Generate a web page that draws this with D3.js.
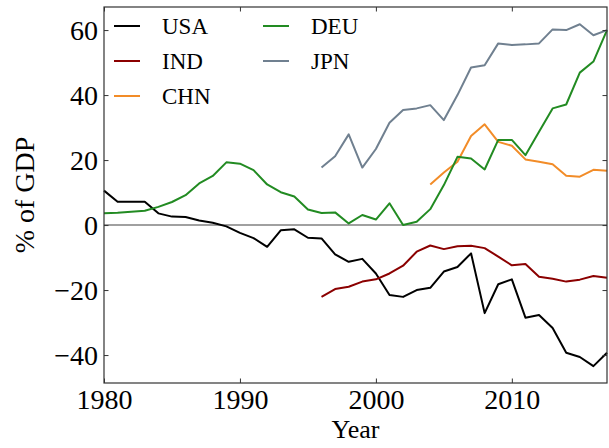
<!DOCTYPE html>
<html>
<head>
  <meta charset="utf-8" />
  <title>Net position, % of GDP</title>
  <script src="https://cdn.jsdelivr.net/npm/d3@7"></script>
  <style>
    body { margin: 0; background: #fff; }
    text { font-family: "Liberation Serif", "DejaVu Serif", serif; fill: #000; }
  </style>
</head>
<body>
  <div id="chart"></div>

  <script>
    // data, % of GDP (null = no data)
    var years = d3.range(1980, 2018);
    var usa = [10.6, 7.2, 7.2, 7.2, 3.6, 2.6, 2.5, 1.4, 0.7, -0.4, -2.4, -4.0, -6.7, -1.6, -1.3, -3.9,
               -4.1, -9.0, -11.3, -10.4, -14.9, -21.5, -22.1, -20.0, -19.3, -14.3, -12.9, -8.7, -27.1, -18.2,
               -16.7, -28.5, -27.7, -31.7, -39.3, -40.6, -43.4, -39.3];
    var ind = [null, null, null, null, null, null, null, null, null, null, null, null, null, null, null, null,
               -22.1, -19.7, -19.0, -17.4, -16.7, -14.9, -12.5, -8.2, -6.3, -7.4, -6.5, -6.4, -7.1, -9.7,
               -12.4, -12.0, -15.9, -16.5, -17.4, -16.8, -15.7, -16.2];
    var chn = [null, null, null, null, null, null, null, null, null, null, null, null, null, null, null, null,
               null, null, null, null, null, null, null, null, 12.5, 16.2, 19.5, 27.4, 31.0, 25.6,
               24.4, 20.2, 19.5, 18.7, 15.2, 14.9, 17.0, 16.7];
    var deu = [3.6, 3.8, 4.1, 4.4, 5.6, 7.1, 9.2, 12.8, 15.1, 19.3, 18.9, 16.9, 12.5, 10.1, 8.8, 4.8,
               3.7, 3.9, 0.5, 3.1, 1.7, 6.7, 0.0, 1.0, 4.9, 12.3, 21.0, 20.5, 17.1, 26.2,
               26.2, 21.5, 28.7, 35.9, 37.1, 46.9, 50.3, 60.0];
    var jpn = [null, null, null, null, null, null, null, null, null, null, null, null, null, null, null, null,
               17.7, 21.2, 27.9, 17.7, 23.4, 31.5, 35.4, 35.9, 36.9, 32.3, 40.0, 48.5, 49.2, 55.9,
               55.4, 55.6, 55.9, 60.2, 60.0, 61.8, 58.4, 60.0];

    var names = ["USA", "IND", "CHN", "DEU", "JPN"];
    var colors = ["#000000", "#8b0000", "#f28c28", "#228b22", "#708090"];
    var xTicks = [1980, 1990, 2000, 2010];
    var yTicks = [-40, -20, 0, 20, 40, 60];

    var width = 609, height = 448;
    var margin = {top: 7, right: 2, bottom: 65, left: 104};

    var svg = d3.select("#chart")
      .append("svg")
      .attr("width", width)
      .attr("height", height);

    var x = d3.scaleLinear().domain([1980, 2017]).range([margin.left, width - margin.right]);
    var y = d3.scaleLinear().domain([-48.6, 67.1]).range([height - margin.bottom, margin.top]);

    var fmt = function(d) { return d < 0 ? "\u2212" + Math.abs(d) : d; };

    // zero line
    svg.append("line")
      .attr("x1", x(1980)).attr("x2", x(2017))
      .attr("y1", y(0)).attr("y2", y(0))
      .attr("stroke", "#808080")
      .attr("stroke-width", 1.5);

    // series
    var series = [usa, ind, chn, deu, jpn];
    var line = d3.line()
      .defined(function(d) { return d[1] != null; })
      .x(function(d) { return x(d[0]); })
      .y(function(d) { return y(d[1]); });

    series.forEach(function(vals, i) {
      svg.append("path")
        .datum(years.map(function(yr, j) { return [yr, vals[j]]; }))
        .attr("fill", "none")
        .attr("stroke", colors[i])
        .attr("stroke-width", 2)
        .attr("stroke-linejoin", "round")
        .attr("d", line);
    });

    // axes, ticks pointing in on all four sides
    var tickLen = 4.5;
    svg.append("g")
      .attr("transform", "translate(0," + y.range()[0] + ")")
      .call(d3.axisBottom(x).tickValues(xTicks).tickSize(-tickLen).tickPadding(6).tickFormat(d3.format("d")));
    svg.append("g")
      .attr("transform", "translate(0," + y.range()[1] + ")")
      .call(d3.axisTop(x).tickValues(xTicks).tickSize(-tickLen).tickFormat(""));
    svg.append("g")
      .attr("transform", "translate(" + x.range()[0] + ",0)")
      .call(d3.axisLeft(y).tickValues(yTicks).tickSize(-tickLen).tickPadding(6).tickFormat(fmt));
    svg.append("g")
      .attr("transform", "translate(" + x.range()[1] + ",0)")
      .call(d3.axisRight(y).tickValues(yTicks).tickSize(-tickLen).tickFormat(""));

    svg.selectAll(".domain").remove();
    svg.selectAll(".tick line").attr("stroke", "#333").attr("stroke-width", 1);
    svg.selectAll(".tick text")
      .style("font-family", "Liberation Serif")
      .style("font-size", "28px")
      .attr("fill", "#000");

    // frame
    svg.append("rect")
      .attr("x", x.range()[0]).attr("y", y.range()[1])
      .attr("width", x.range()[1] - x.range()[0])
      .attr("height", y.range()[0] - y.range()[1])
      .attr("fill", "none")
      .attr("stroke", "#333")
      .attr("stroke-width", 1.2);

    // axis labels
    svg.append("text")
      .attr("x", (x.range()[0] + x.range()[1]) / 2)
      .attr("y", 438)
      .attr("text-anchor", "middle")
      .style("font-size", "26px")
      .text("Year");

    svg.append("text")
      .attr("transform", "translate(34," + (y.range()[0] + y.range()[1]) / 2 + ") rotate(-90)")
      .attr("text-anchor", "middle")
      .style("font-size", "28px")
      .text("% of GDP");

    // legend, two columns
    var legend = svg.append("g");
    names.forEach(function(n, i) {
      var col = i < 3 ? 0 : 1, row = i < 3 ? i : i - 3;
      var lx = 114 + col * 149, ly = 26 + row * 35;
      legend.append("line")
        .attr("x1", lx).attr("x2", lx + 26)
        .attr("y1", ly).attr("y2", ly)
        .attr("stroke", colors[i])
        .attr("stroke-width", 2);
      legend.append("text")
        .attr("x", lx + 48)
        .attr("y", ly)
        .attr("dy", "0.35em")
        .style("font-size", "23px")
        .text(n);
    });
  </script>
</body>
</html>
